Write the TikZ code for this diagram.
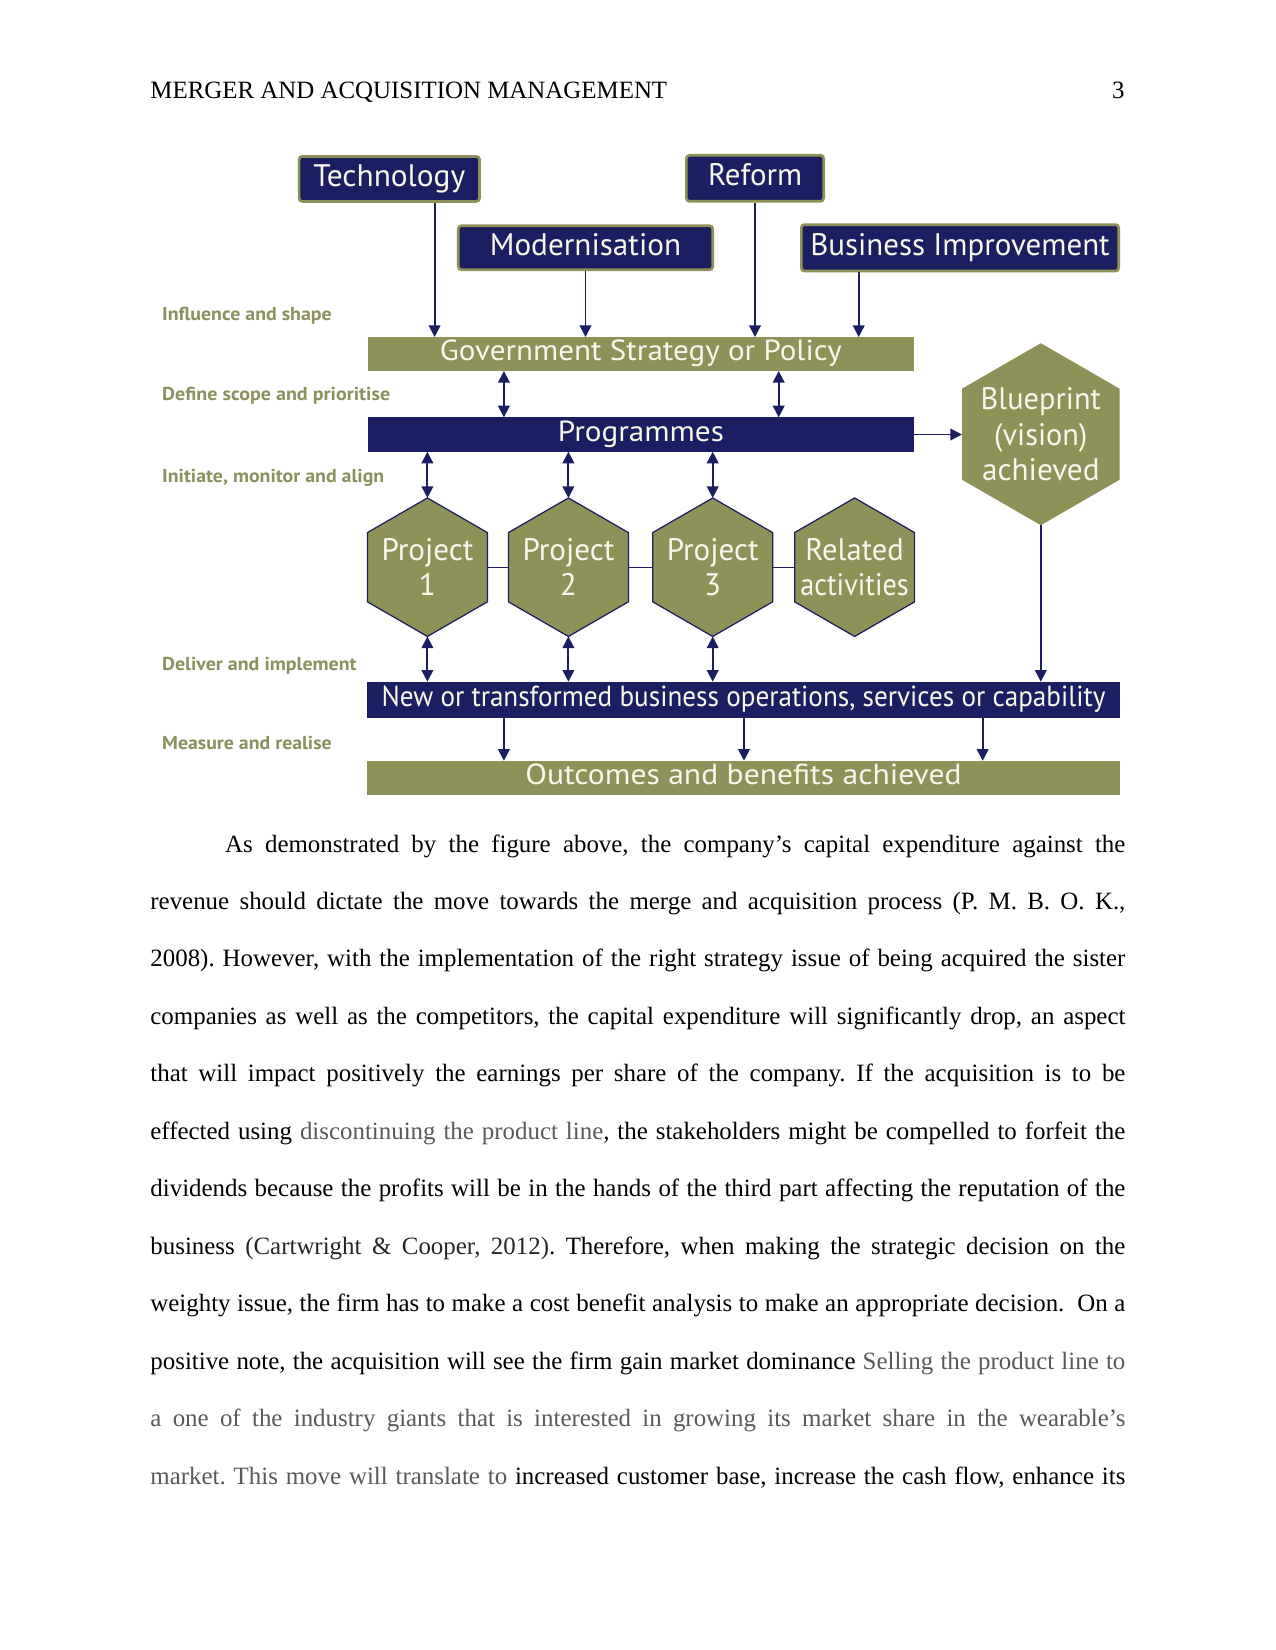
\documentclass[tikz,border=0pt]{standalone}
\usepackage{fontspec}
\setmainfont{Liberation Serif}
\newfontfamily\dfont{PT Sans}
\usetikzlibrary{shapes.geometric,arrows.meta}
\newdimen\pxu \pxu=0.48175pt
\definecolor{navy}{RGB}{27,31,98}
\definecolor{olive}{RGB}{142,146,88}
\definecolor{labolive}{RGB}{140,144,92}
\definecolor{cream}{RGB}{248,247,234}
\definecolor{greytext}{RGB}{89,89,89}
\definecolor{citegrey}{RGB}{38,38,38}
\newcommand\fw[2]{\resizebox{#1\pxu}{\height}{#2}}
\newcommand\pline[1]{\hbox to\hsize{#1}}
\hbadness=10000
\frenchspacing
\tikzset{
  topbox/.style={rectangle, rounded corners=1.5pt, draw=olive, line width=1.3pt, fill=navy,
    text=cream, inner sep=0pt, font={\dfont\fontsize{15}{18}\selectfont}, text height=10.5pt, text depth=3.3pt},
  strip/.style={rectangle, inner sep=0pt, outer sep=0pt, text=cream,
    font={\dfont\fontsize{14}{17}\selectfont}, text height=9.8pt, text depth=3.1pt,
    minimum width=546.8\pxu},
  navystrip/.style={strip, fill=navy},
  olivestrip/.style={strip, fill=olive},
  hexp/.style={regular polygon, regular polygon sides=6, regular polygon rotate=30,
    minimum size=138.5\pxu, inner sep=0pt, outer sep=0pt, fill=olive, draw=navy, line width=0.6pt},
  hexbp/.style={regular polygon, regular polygon sides=6, regular polygon rotate=30,
    minimum size=182\pxu, inner sep=0pt, outer sep=0pt, fill=olive},
  hextext/.style={text=cream, align=center, inner sep=0pt, font={\dfont\fontsize{15}{16.9}\selectfont}},
  lab/.style={anchor=base west, inner sep=0pt, text=labolive, font={\dfont\bfseries\fontsize{9}{11}\selectfont}},
  arr/.style={draw=navy, line width=0.9pt, -{Triangle[length=5.6pt,width=5.6pt]}},
  dbl/.style={draw=navy, line width=0.9pt, {Triangle[length=5.6pt,width=5.6pt]}-{Triangle[length=5.6pt,width=5.6pt]}},
  link/.style={draw=navy, line width=0.6pt}
}
\begin{document}
\begin{tikzpicture}[x=0.48175pt, y=-0.48175pt]
\useasboundingbox (0,0) rectangle (1275,1650);
\fill[white] (0,0) rectangle (1275,1650);

% header
\node[anchor=base west, inner sep=0pt, font=\fontsize{12}{14}\selectfont] (hdr) at (150,98) {MERGER AND ACQUISITION MANAGEMENT};
\node[anchor=base east, inner sep=0pt, font=\fontsize{12}{14}\selectfont] (pg) at (1125,98) {3};

% top boxes
\node[topbox, minimum width=180.4\pxu, minimum height=45\pxu] (tech) at (389.3,178.9) {\fw{151.7}{Technology}};
\node[topbox, minimum width=137.3\pxu, minimum height=46\pxu] (reform) at (755,178.3) {\fw{94}{Reform}};
\node[topbox, minimum width=254.4\pxu, minimum height=44\pxu] (modern) at (585.5,247.7) {\fw{191.3}{Modernisation}};
\node[topbox, minimum width=317.3\pxu, minimum height=46.3\pxu] (bi) at (960,247.8) {\fw{299.3}{Business Improvement}};

% strips
\node[olivestrip, minimum height=34\pxu] (gov) at (640.9,354) {\fw{402}{Government Strategy or Policy}};
\node[navystrip, minimum height=34.4\pxu] (prog) at (640.9,434.5) {\fw{166}{Programmes}};
\node[navystrip, minimum width=752.9\pxu, minimum height=36\pxu] (new) at (743.5,699.7) {\fw{723.8}{New or transformed business operations, services or capability}};
\node[olivestrip, minimum width=752.9\pxu, minimum height=34.3\pxu] (out) at (743.5,777.9) {\fw{436.1}{Outcomes and benefits achieved}};

% hexagons
\node[hexbp] (bp) at (1040.8,434.2) {};
\node[hextext] (bpt) at (bp) {\fw{120.3}{Blueprint}\\\fw{93.3}{(vision)}\\\fw{117.6}{achieved}};
\node[hexp] (p1) at (427.4,567.2) {};
\node[hexp] (p2) at (568.4,567.2) {};
\node[hexp] (p3) at (712.7,567.2) {};
\node[hexp] (rel) at (854.6,567.2) {};
\node[hextext] (p1t) at (p1) {\fw{91.8}{Project}\\1};
\node[hextext] (p2t) at (p2) {\fw{91.8}{Project}\\2};
\node[hextext] (p3t) at (p3) {\fw{91.8}{Project}\\3};
\node[hextext] (relt) at (rel) {\fw{98.3}{Related}\\\fw{108.3}{activities}};

% side labels
\node[lab] (l1) at (161.8,320) {\fw{169.5}{Influence and shape}};
\node[lab] (l2) at (161.8,400.7) {\fw{228}{Define scope and prioritise}};
\node[lab] (l3) at (161.8,482.7) {\fw{222}{Initiate, monitor and align}};
\node[lab] (l4) at (161.8,670) {\fw{194.4}{Deliver and implement}};
\node[lab] (l5) at (161.8,749) {\fw{169.5}{Measure and realise}};

% x positions
\coordinate (xt) at (434.6,0);
\coordinate (xm) at (585.5,0);
\coordinate (xr) at (755,0);
\coordinate (xb) at (858.7,0);
\coordinate (xd1) at (503.9,0);
\coordinate (xd2) at (778.7,0);
\coordinate (xo1) at (503.9,0);
\coordinate (xo2) at (744,0);
\coordinate (xo3) at (982.7,0);

% connectors
\draw[arr] (tech.south -| xt) -- (gov.north -| xt);
\draw[arr] (modern.south -| xm) -- (gov.north -| xm);
\draw[arr] (reform.south -| xr) -- (gov.north -| xr);
\draw[arr] (bi.south -| xb) -- (gov.north -| xb);
\draw[dbl] (gov.south -| xd1) -- (prog.north -| xd1);
\draw[dbl] (gov.south -| xd2) -- (prog.north -| xd2);
\draw[arr] (prog.east) -- (prog.east -| bp.west);
\draw[dbl] (prog.south -| p1) -- (p1.north);
\draw[dbl] (prog.south -| p2) -- (p2.north);
\draw[dbl] (prog.south -| p3) -- (p3.north);
\draw[link] (p1.east) -- (p2.west);
\draw[link] (p2.east) -- (p3.west);
\draw[link] (p3.east) -- (rel.west);
\draw[dbl] (p1.south) -- (new.north -| p1);
\draw[dbl] (p2.south) -- (new.north -| p2);
\draw[dbl] (p3.south) -- (new.north -| p3);
\draw[arr] (bp.south) -- (new.north -| bp.south);
\draw[arr] (new.south -| xo1) -- (out.north -| xo1);
\draw[arr] (new.south -| xo2) -- (out.north -| xo2);
\draw[arr] (new.south -| xo3) -- (out.north -| xo3);

% body paragraph
\node[anchor=base west, inner sep=0pt] (para) at (150,852) {\vtop{\hsize=469.7pt \fontsize{12}{27.68}\selectfont
\pline{\hskip 36pt As demonstrated by the figure above, the company’s capital expenditure against the}
\pline{revenue should dictate the move towards the merge and acquisition process (P. M. B. O. K.,}
\pline{2008). However, with the implementation of the right strategy issue of being acquired the sister}
\pline{companies as well as the competitors, the capital expenditure will significantly drop, an aspect}
\pline{that will impact positively the earnings per share of the company. If the acquisition is to be}
\pline{effected using {\color{greytext}discontinuing the product line}, the stakeholders might be compelled to forfeit the}
\pline{dividends because the profits will be in the hands of the third part affecting the reputation of the}
\pline{business {\color{citegrey}(Cartwright \& Cooper, 2012)}. Therefore, when making the strategic decision on the}
\pline{weighty issue, the firm has to make a cost benefit analysis to make an appropriate decision.\ \ On a}
\pline{positive note, the acquisition will see the firm gain market dominance {\color{greytext}Selling the product line to}}
\pline{\color{greytext}a one of the industry giants that is interested in growing its market share in the wearable’s}
\pline{{\color{greytext}market. This move will translate to} increased customer base, increase the cash flow, enhance its}
}};
\end{tikzpicture}
\end{document}
